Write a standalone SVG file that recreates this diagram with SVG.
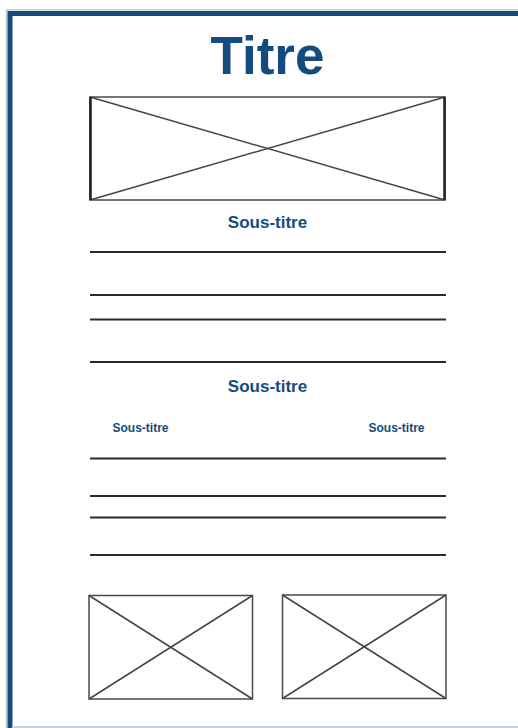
<svg xmlns="http://www.w3.org/2000/svg" width="518" height="728" viewBox="0 0 518 728">
<style>
.t{font-family:"Liberation Sans",Arial,sans-serif;font-weight:bold;fill:#144b80;text-anchor:middle}
.ph{fill:#fff;stroke:#4a4a4a;stroke-width:1.5}
.x{stroke:#444;stroke-width:1.5}
.ln{stroke:#2a2a2a;stroke-width:2}
</style>
<rect width="518" height="728" fill="#fff"/>
<g id="frame">
<path d="M6.5,728 V9.8 H518" fill="none" stroke="#c8c8c8" stroke-width="1.5"/>
<path d="M10,728 V13.5 H518" fill="none" stroke="#144b80" stroke-width="5"/>
<line x1="12" y1="727" x2="518" y2="727" stroke="#c5d3e3" stroke-width="2"/>
</g>
<g id="title"><text class="t" x="267.5" y="74" font-size="53">Titre</text></g>
<g id="image-top">
<rect class="ph" x="90" y="97" width="355" height="103"/>
<line class="x" x1="90" y1="97" x2="445" y2="200"/>
<line class="x" x1="90" y1="200" x2="445" y2="97"/>
<line x1="90.5" y1="97" x2="90.5" y2="200" stroke="#222" stroke-width="2.5"/>
<line x1="444.5" y1="97" x2="444.5" y2="200" stroke="#222" stroke-width="2.5"/>
</g>
<g id="subtitle-1"><text class="t" x="267.5" y="228" font-size="17">Sous-titre</text></g>
<g id="text-lines-1">
<line class="ln" x1="90" y1="252" x2="446" y2="252"/>
<line class="ln" x1="90" y1="295" x2="446" y2="295"/>
<line class="ln" x1="90" y1="319.5" x2="446" y2="319.5"/>
<line class="ln" x1="90" y1="362" x2="446" y2="362"/>
</g>
<g id="subtitle-2"><text class="t" x="267.5" y="392" font-size="17">Sous-titre</text></g>
<g id="subtitle-left"><text class="t" x="140.5" y="432" font-size="12">Sous-titre</text></g>
<g id="subtitle-right"><text class="t" x="396.5" y="432" font-size="12">Sous-titre</text></g>
<g id="text-lines-2">
<line class="ln" x1="90" y1="458.5" x2="446" y2="458.5"/>
<line class="ln" x1="90" y1="496" x2="446" y2="496"/>
<line class="ln" x1="90" y1="517.5" x2="446" y2="517.5"/>
<line class="ln" x1="90" y1="555" x2="446" y2="555"/>
</g>
<g id="image-left">
<rect class="ph" x="89" y="595.5" width="163.5" height="103.5"/>
<line class="x" x1="89" y1="595.5" x2="252.5" y2="699"/>
<line class="x" x1="89" y1="699" x2="252.5" y2="595.5"/>
</g>
<g id="image-right">
<rect class="ph" x="282.5" y="595" width="163.5" height="103.5"/>
<line class="x" x1="282.5" y1="595" x2="446" y2="698.5"/>
<line class="x" x1="282.5" y1="698.5" x2="446" y2="595"/>
</g>
</svg>
